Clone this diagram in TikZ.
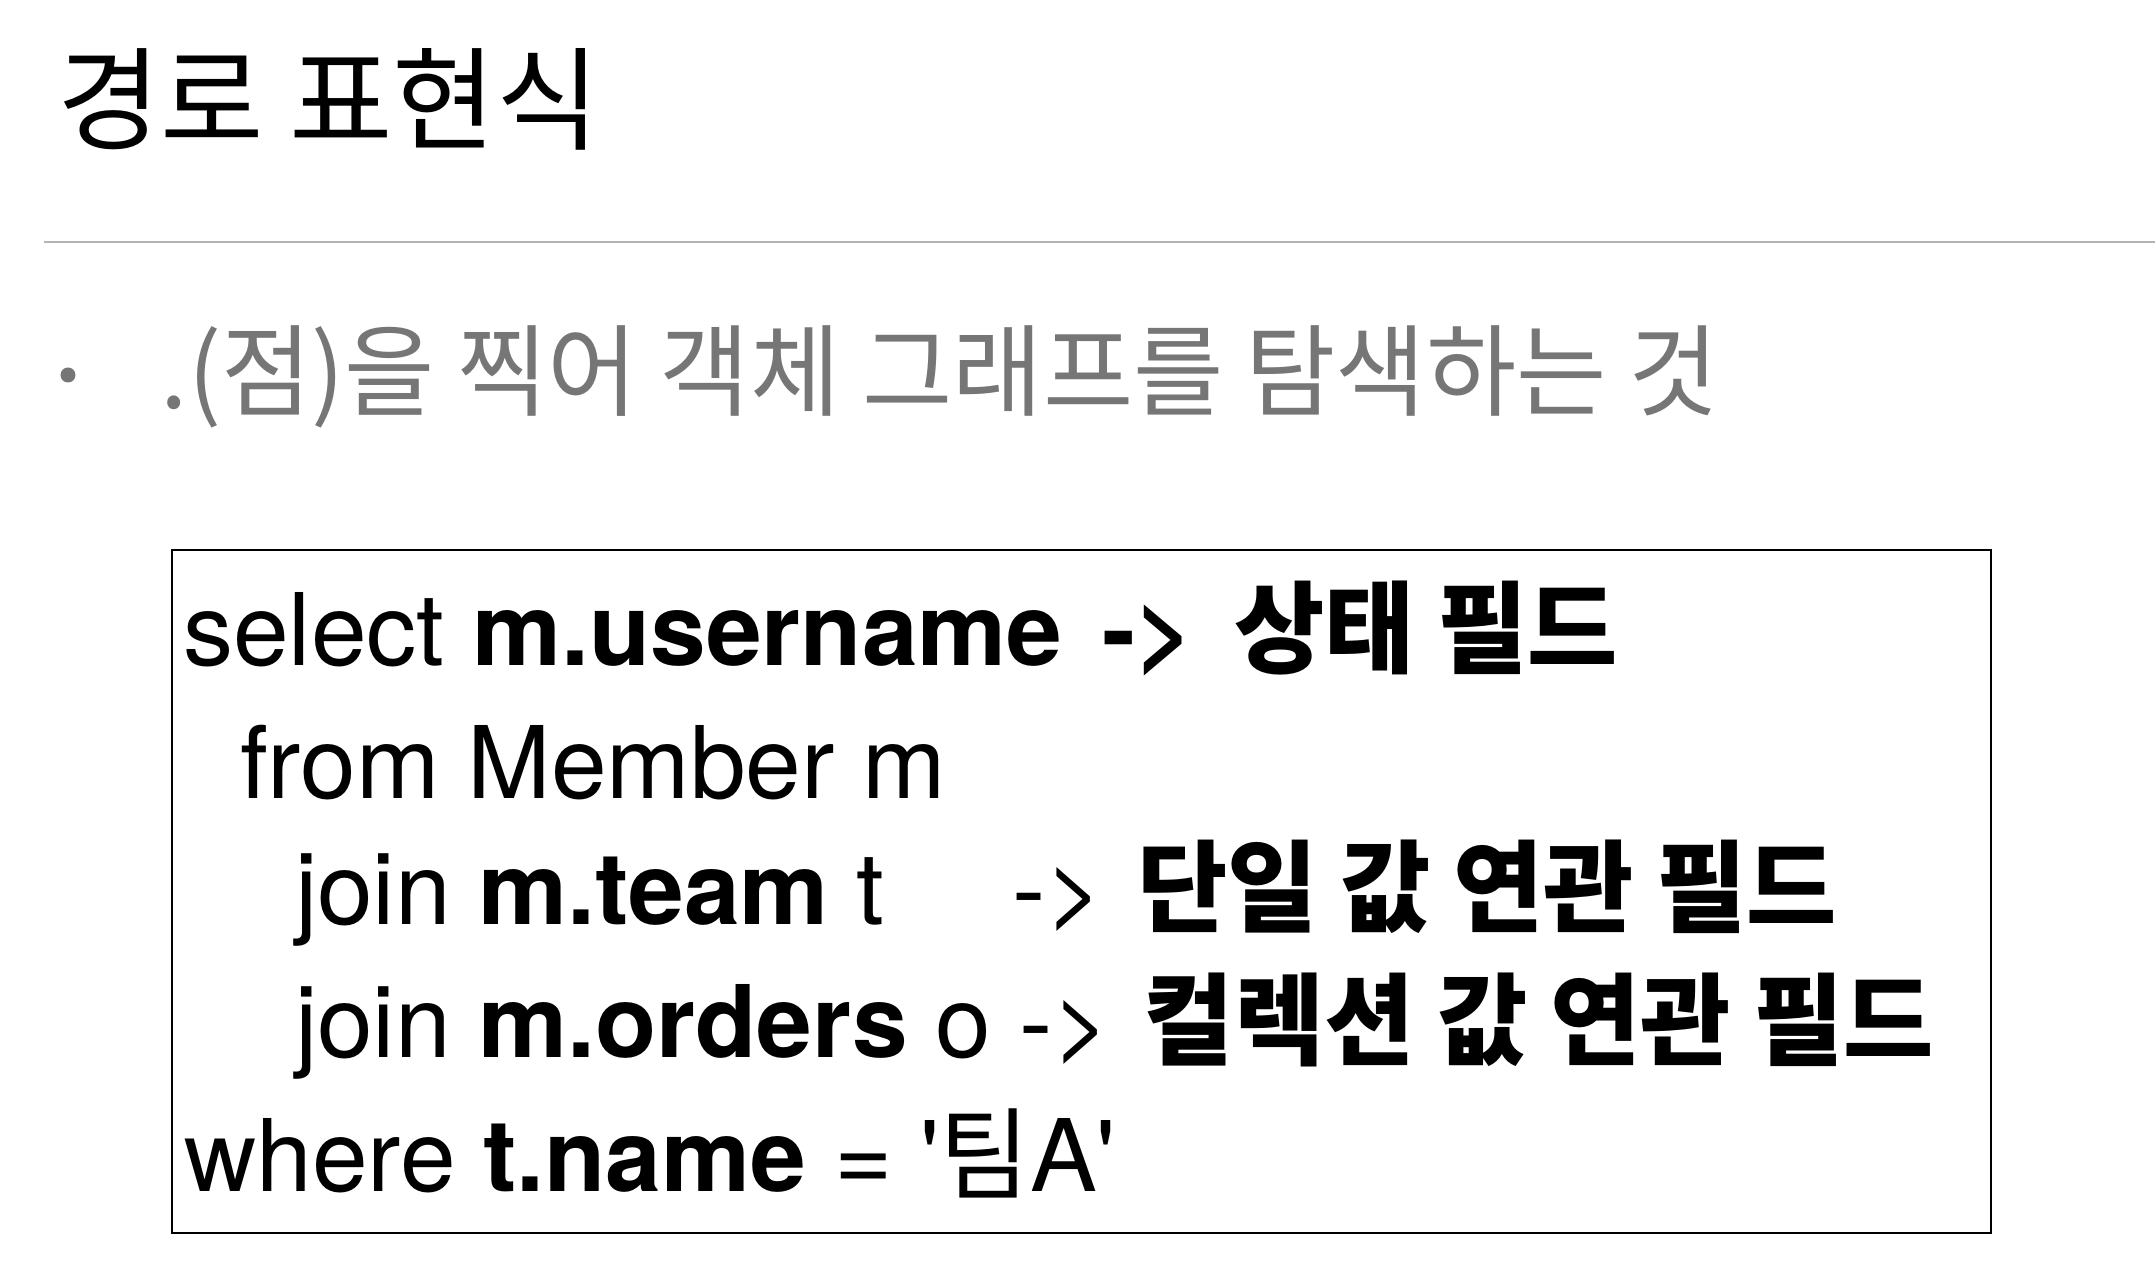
\documentclass[tikz,border=0pt]{standalone}
\usepackage{fontspec}
\setmainfont{TeX Gyre Heros}
\newfontfamily\krfont[FakeStretch=0.98]{Noto Sans CJK KR}
\newfontfamily\krtitle{Noto Sans CJK KR}
\newcommand{\ko}[1]{{\krfont #1}}
\usetikzlibrary{positioning}
\definecolor{rulegray}{HTML}{B4B4B4}
\definecolor{bulletgray}{HTML}{767676}

\begin{document}
\begin{tikzpicture}[
    txt/.style={anchor=base west, inner sep=0pt, outer sep=0pt},
    codeline/.style={txt, font=\fontsize{28.5pt}{34pt}\selectfont}
]
    % Fix the page to the slide size
    \useasboundingbox (0,0) rectangle (21.55,-12.85);

    % Draw slide title and separator rule
    \node[txt, font=\fontsize{32pt}{38pt}\selectfont] (title) at (0.57,-1.42) {\krtitle 경로 표현식};
    \coordinate (ruleL) at (0.44,-2.42);
    \coordinate (ruleR) at (21.55,-2.42);
    \draw[rulegray, line width=0.6pt] (ruleL) -- (ruleR);

    % Bullet point
    \node[circle, fill=bulletgray, inner sep=0pt, minimum size=0.15cm] (dot) at (0.68,-3.75) {};
    \node[txt, bulletgray, font=\fontsize{28.5pt}{34pt}\selectfont] (point) at (1.61,-4.09)
        {\ko{.(점)을 찍어 객체 그래프를 탐색하는 것}};

    % Draw query box
    \draw[line width=0.6pt] (1.72,-5.50) rectangle (19.91,-12.33);
    \node[codeline] (sel) at (1.83,-6.66)
        {select \textbf{m.username\hspace*{0.12cm} ->\hspace*{0.12cm} \ko{상태 필드}}};
    \node[codeline] (frm) at (2.40,-7.99) {from Member m};
    \node[codeline] (jteam) at (2.95,-9.24)
        {join \textbf{m.team} t\hspace*{1.0cm} ->\hspace*{0.05cm} \textbf{\ko{단일 값 연관 필드}}};
    \node[codeline] (jorders) at (2.95,-10.57)
        {join \textbf{m.orders} o ->\hspace*{0.05cm} \textbf{\ko{컬렉션 값 연관 필드}}};
    \node[codeline] (whr) at (1.84,-11.91)
        {where \textbf{t.name} = \textquotesingle\ko{팀}A\textquotesingle};
\end{tikzpicture}
\end{document}
